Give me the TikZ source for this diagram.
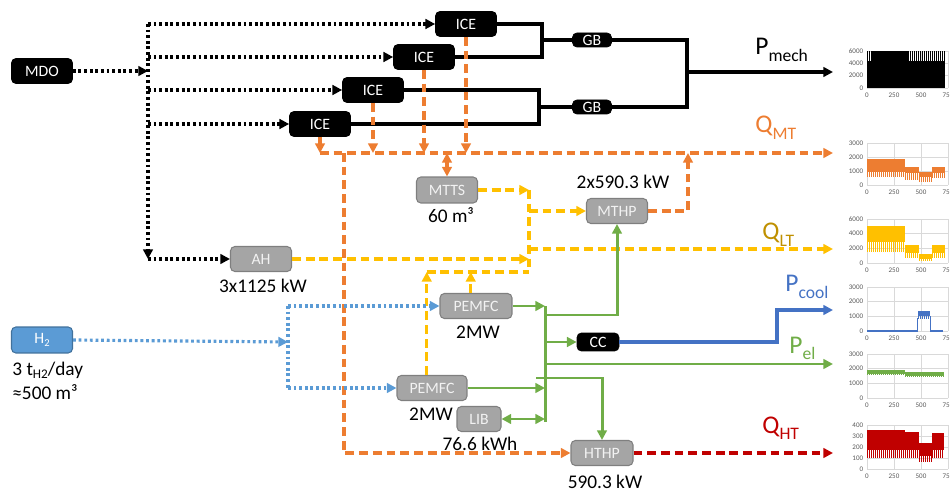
\documentclass[tikz,border=0pt]{standalone}
\usepackage{fontspec}
\setmainfont{Carlito}
\usepackage{tikz}
\usetikzlibrary{arrows.meta, positioning}

\definecolor{mtorange}{RGB}{237,125,49}
\definecolor{ltyellow}{RGB}{255,192,0}
\definecolor{ltlabel}{RGB}{191,144,0}
\definecolor{htred}{RGB}{192,0,0}
\definecolor{elgreen}{RGB}{112,173,71}
\definecolor{coolblue}{RGB}{68,114,196}
\definecolor{hblue}{RGB}{91,155,213}
\definecolor{hblueedge}{RGB}{65,113,156}
\definecolor{boxgray}{RGB}{165,165,165}
\definecolor{boxedge}{RGB}{127,127,127}
\definecolor{boxtext}{RGB}{242,242,242}
\definecolor{gridgray}{RGB}{217,217,217}
\definecolor{ticktext}{RGB}{89,89,89}

\begin{document}
\begin{tikzpicture}[x=0.02cm, y=-0.02cm,
    >={Triangle[length=5.5pt,width=5.5pt]},
    box/.style={rounded corners=2.5pt, inner sep=0pt, font=\fontsize{9}{10}\selectfont},
    blackbox/.style={box, fill=black, draw=black, text=white, minimum width=1.22cm, minimum height=0.5cm},
    graybox/.style={box, fill=boxgray, draw=boxedge, line width=0.6pt, text=boxtext, minimum width=1.22cm, minimum height=0.5cm},
    h2box/.style={box, fill=hblue, draw=hblueedge, line width=0.6pt, text=white, minimum width=1.22cm, minimum height=0.52cm},
    sizelbl/.style={anchor=base, inner sep=0pt, font=\fontsize{11}{13}\selectfont},
    flowlbl/.style={anchor=base west, inner sep=0pt},
    fuelflow/.style={black, line width=1.8pt, dash pattern=on 1.6pt off 1.6pt},
    h2flow/.style={hblue, line width=1.8pt, dash pattern=on 1.6pt off 1.6pt},
    shaft/.style={black, line width=1.8pt},
    mtflow/.style={mtorange, line width=1.8pt, dash pattern=on 5pt off 2.8pt},
    ltflow/.style={ltyellow, line width=1.8pt, dash pattern=on 5pt off 2.8pt},
    htflow/.style={htred, line width=1.8pt, dash pattern=on 5pt off 2.8pt},
    elflow/.style={elgreen, line width=1.7pt},
    coolflow/.style={coolblue, line width=1.8pt},
    gridline/.style={gridgray, line width=0.4pt},
    ticklbl/.style={inner sep=0pt, text=ticktext, font=\fontsize{4}{5}\selectfont}]
    \useasboundingbox (0,0) rectangle (950,493);
    % Flow labels: big letter with lowered index
    \def\flowlbl#1#2{{\fontsize{14.5}{17}\selectfont #1}\raisebox{-3.5pt}{\fontsize{10}{12}\selectfont #2}}
    % Fuel sources
    \node[blackbox] (mdo) at (42,71) {MDO};
    \node[h2box] (h2) at (42,340) {H\raisebox{-1.5pt}{\fontsize{6}{7}\selectfont 2}};
    \node[flowlbl, font=\fontsize{11}{13}\selectfont] (h2rate) at (12,375) {3 t\raisebox{-2pt}{\fontsize{7.5}{9}\selectfont H2}/day};
    \node[flowlbl, font=\fontsize{11}{13}\selectfont] (h2vol) at (12,399) {≈500 m³};
    % Engines and gearboxes
    \node[blackbox] (ice1) at (466,24) {ICE};
    \node[blackbox] (ice2) at (424,57) {ICE};
    \node[blackbox] (ice3) at (373,90) {ICE};
    \node[blackbox] (ice4) at (320,124) {ICE};
    \node[blackbox, minimum width=0.78cm, minimum height=0.28cm] (gb1) at (592,40) {GB};
    \node[blackbox, minimum width=0.78cm, minimum height=0.28cm] (gb2) at (592,107) {GB};
    % Converters and storage
    \node[graybox] (ah) at (261,259) {AH};
    \node[graybox, minimum height=0.52cm] (mtts) at (447,190) {MTTS};
    \node[graybox] (mthp) at (617,211) {MTHP};
    \node[graybox, minimum width=1.44cm] (pemfc1) at (476,306) {PEMFC};
    \node[graybox, minimum width=1.4cm] (pemfc2) at (432,388) {PEMFC};
    \node[graybox, minimum width=0.88cm] (lib) at (479,419) {LIB};
    \node[graybox, minimum width=1.24cm] (hthp) at (602,453) {HTHP};
    \node[blackbox, minimum width=0.84cm, minimum height=0.36cm] (cc) at (598,342) {CC};
    % Ratings
    \node[sizelbl] (ahsize) at (263,293) {3x1125 kW};
    \node[sizelbl] (mttssize) at (451,223) {60 m³};
    \node[sizelbl] (mthpsize) at (623,189) {2x590.3 kW};
    \node[sizelbl] (pemfc1size) at (478,338) {2MW};
    \node[sizelbl] (pemfc2size) at (431,420) {2MW};
    \node[sizelbl] (libsize) at (480,450) {76.6 kWh};
    \node[sizelbl] (hthpsize) at (605,488) {590.3 kW};
    % Junction points
    \coordinate (mdox) at (148,71);
    \coordinate (sh1) at (542,40);
    \coordinate (sh2) at (539,107);
    \coordinate (sh3) at (687,72);
    \coordinate (mt0) at (320,153);
    \coordinate (mtdrop) at (344,153);
    \coordinate (mthpup) at (688,153);
    \coordinate (ltup) at (529,190);
    \coordinate (ltlow) at (529,272);
    \coordinate (ltout) at (529,249);
    \coordinate (h2x) at (288,342);
    \coordinate (bustop) at (545,306);
    \coordinate (busbot) at (545,422);
    \coordinate (mechend) at (833,72);
    \coordinate (mtend) at (833,153);
    \coordinate (ltend) at (833,249);
    \coordinate (coolend) at (833,310);
    \coordinate (elend) at (833,364);
    \coordinate (htend) at (833,454);
    % MDO supply
    \draw[fuelflow,->] (mdo.east) -- (mdox);
    \draw[fuelflow,->] (mdox |- ice1.west) -- (mdox |- ah.west);
    \draw[fuelflow,->] (mdox |- ah.west) -- (ah.west);
    \foreach \n in {ice1,ice2,ice3,ice4}
        \draw[fuelflow,->] (mdox |- \n.west) -- (\n.west);
    % Shafts
    \draw[shaft] (ice1.east) -| (sh1 |- ice2.east) -- (ice2.east);
    \draw[shaft] (sh1) -- (gb1.west);
    \draw[shaft] (ice3.east) -| (sh2 |- ice4.east) -- (ice4.east);
    \draw[shaft] (sh2) -- (gb2.west);
    \draw[shaft] (gb1.east) -| (sh3 |- gb2.east) -- (gb2.east);
    \draw[shaft,->] (sh3) -- (mechend);
    % Medium temperature heat
    \foreach \n in {ice1,ice2,ice3,ice4}
        \draw[mtflow,->] (\n.south) -- (\n.south |- mt0);
    \draw[mtflow,->] (mt0) -- (mtend);
    \draw[mtflow,<->] (mtts.north) -- (mtts.north |- mt0);
    \draw[mtflow,->] (mthp.east) -| (mthpup);
    \draw[mtflow,->] (mtdrop) |- (hthp.west);
    % Low temperature heat
    \draw[ltflow,->] (mtts.east) -- (ltup);
    \draw[ltflow] (ltup) -- (ltlow);
    \draw[ltflow,->] (ltup |- mthp.west) -- (mthp.west);
    \draw[ltflow,->] (ah.east) -- (ah.east -| ltup);
    \draw[ltflow,->] (ltout) -- (ltend);
    \draw[ltflow] ([xshift=-3pt]pemfc2.north |- ltlow) -- (ltlow);
    \draw[ltflow,->] ([xshift=-3pt]pemfc2.north) -- ([xshift=-3pt]pemfc2.north |- ltlow);
    \draw[ltflow,->] ([xshift=-3pt]pemfc1.north) -- ([xshift=-3pt]pemfc1.north |- ltlow);
    % Hydrogen supply
    \draw[h2flow,->] (h2.east) -- (h2x);
    \draw[h2flow] (h2x |- pemfc1.west) -- (h2x |- pemfc2.west);
    \draw[h2flow,->] (h2x |- pemfc1.west) -- (pemfc1.west);
    \draw[h2flow,->] (h2x |- pemfc2.west) -- (pemfc2.west);
    % Electric bus
    \draw[elflow] (bustop) -- (busbot);
    \draw[elflow,->] (pemfc1.east) -- (pemfc1.east -| bustop);
    \draw[elflow,->] (pemfc2.east) -- (pemfc2.east -| bustop);
    \draw[elflow,<->] (lib.east) -- (lib.east -| bustop);
    \draw[elflow,->] (545,315) -| (mthp.south);
    \draw[elflow,->] (cc.west -| bustop) -- (cc.west);
    \draw[elflow,->] (elend -| bustop) -- (elend);
    \draw[elflow,->] (536,378) -| (hthp.north);
    % Cooling and high temperature heat
    \draw[coolflow,->] (cc.east) -| (777,310) -- (coolend);
    \draw[htflow,->] (hthp.east) -- (hthp.east -| htend);
    % Output labels
    \node[flowlbl] (pmech) at (755,55) {\flowlbl{P}{mech}};
    \node[flowlbl, mtorange] (qmt) at (755,133) {\flowlbl{Q}{MT}};
    \node[flowlbl, ltlabel] (qlt) at (762,240) {\flowlbl{Q}{LT}};
    \node[flowlbl, coolblue] (pcool) at (785,292) {\flowlbl{P}{cool}};
    \node[flowlbl, elgreen] (pel) at (789,353) {\flowlbl{P}{el}};
    \node[flowlbl, htred] (qht) at (762,433) {\flowlbl{Q}{HT}};
    % Small time series charts
    \def\chartaxes#1#2{%
        \foreach \f/\t in {#2} {
            \draw[gridline] (0,\f) -- (1,\f);
            \node[ticklbl, anchor=east, xshift=-2pt] (#1y\t) at (0,\f) {\t};
        }
        \foreach \f/\t in {0/0, 0.3333/250, 0.6667/500, 1/750} {
            \draw[gridline] (\f,0) -- (\f,1);
            \node[ticklbl, anchor=north, yshift=-2.5pt] (#1x\t) at (\f,0) {\t};
        }
    }
    \def\chartband#1#2#3#4#5#6{% colour, x from, x to, spikes from, band from, band to
        \fill[#1] (#2,#5) rectangle (#3,#6);
        \pgfmathtruncatemacro\nspk{(#3-#2)/0.025}
        \foreach \k in {0,...,\nspk}
            \fill[#1] ({#2+\k*0.025},#4) rectangle ({#2+\k*0.025+0.013},#5);
    }
    \begin{scope}[shift={(867,88)}, x=1.62cm, y=0.74cm]
        \chartaxes{c1}{0/0, 0.3333/2000, 0.6667/4000, 1/6000}
        \fill[black] (0,0) rectangle (0.96,0.72);
        \foreach \k in {0,...,38}
            \fill[black] ({\k*0.025},0.72) rectangle ({\k*0.025+0.018},1);
    \end{scope}
    \begin{scope}[shift={(867,185)}, x=1.62cm, y=0.84cm]
        \chartaxes{c2}{0/0, 0.3333/1000, 0.6667/2000, 1/3000}
        \chartband{mtorange}{0}{0.467}{0.18}{0.31}{0.62}
        \chartband{mtorange}{0.467}{0.64}{0.12}{0.28}{0.44}
        \chartband{mtorange}{0.64}{0.8}{0.06}{0.2}{0.31}
        \chartband{mtorange}{0.8}{0.96}{0.16}{0.28}{0.44}
    \end{scope}
    \begin{scope}[shift={(867,263)}, x=1.62cm, y=0.88cm]
        \chartaxes{c3}{0/0, 0.3333/2000, 0.6667/4000, 1/6000}
        \chartband{ltyellow}{0}{0.467}{0.25}{0.48}{0.85}
        \chartband{ltyellow}{0.467}{0.64}{0.12}{0.22}{0.41}
        \chartband{ltyellow}{0.64}{0.8}{0.05}{0.1}{0.21}
        \chartband{ltyellow}{0.8}{0.96}{0.12}{0.22}{0.41}
    \end{scope}
    \begin{scope}[shift={(867,331)}, x=1.62cm, y=0.88cm]
        \chartaxes{c4}{0/0, 0.3333/1000, 0.6667/2000, 1/3000}
        \draw[coolblue, line width=0.7pt] (0,0) -- (0.626,0) -- (0.626,0.3);
        \draw[coolblue, line width=0.7pt] (0.78,0.3) -- (0.78,0) -- (0.94,0);
        \chartband{coolblue}{0.626}{0.78}{0.28}{0.33}{0.46}
    \end{scope}
    \begin{scope}[shift={(867,398)}, x=1.62cm, y=0.88cm]
        \chartaxes{c5}{0/0, 0.3333/1000, 0.6667/2000, 1/3000}
        \chartband{elgreen}{0}{0.467}{0.52}{0.55}{0.63}
        \chartband{elgreen}{0.467}{0.95}{0.47}{0.5}{0.6}
    \end{scope}
    \begin{scope}[shift={(867,469)}, x=1.62cm, y=0.88cm]
        \chartaxes{c6}{0/0, 0.25/100, 0.5/200, 0.75/300, 1/400}
        \chartband{htred}{0}{0.467}{0.25}{0.44}{0.89}
        \chartband{htred}{0.467}{0.64}{0.25}{0.44}{0.83}
        \chartband{htred}{0.64}{0.8}{0.15}{0.29}{0.6}
        \chartband{htred}{0.8}{0.95}{0.25}{0.44}{0.81}
    \end{scope}
\end{tikzpicture}
\end{document}
